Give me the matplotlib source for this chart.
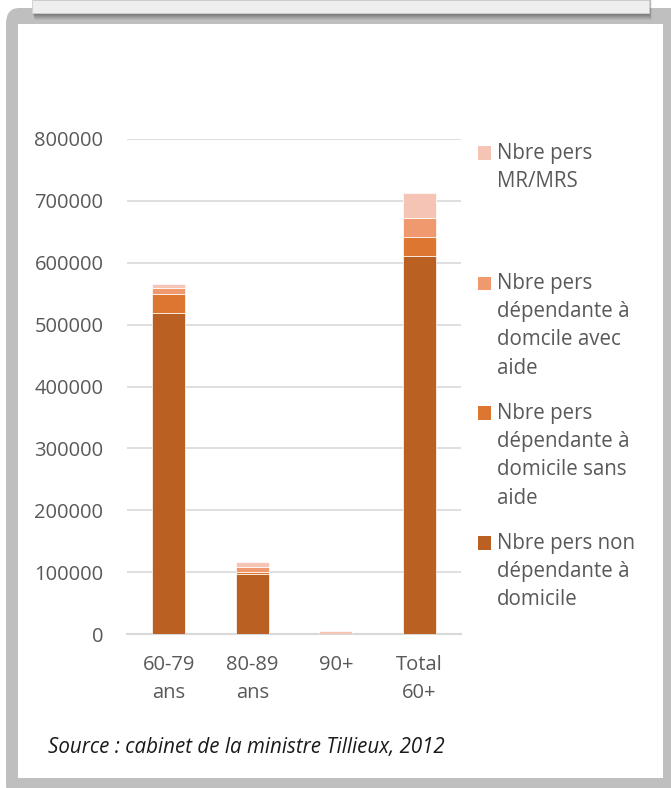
import numpy as np
import matplotlib
matplotlib.use("Agg")
from matplotlib import pyplot as plt
from matplotlib.patches import Rectangle, FancyBboxPatch

# data
categories = ["60-79\nans", "80-89\nans", "90+", "Total\n60+"]
non_dep = [519000, 97000, 0, 611000]
dep_sans_aide = [30000, 4000, 0, 31000]
dep_avec_aide = [10000, 8000, 0, 30000]
mr_mrs = [6000, 7000, 4500, 40000]

series_labels = [
    "Nbre pers\nMR/MRS",
    "Nbre pers\ndépendante à\ndomcile avec\naide",
    "Nbre pers\ndépendante à\ndomicile sans\naide",
    "Nbre pers non\ndépendante à\ndomicile",
]
colors = ["#b96022", "#dd7630", "#f0996e", "#f5c4b4"]  # bottom to top
yticks = [0, 100000, 200000, 300000, 400000, 500000, 600000, 700000, 800000]

W, H = 671, 788
plt.rcParams['font.family'] = ['Open Sans', 'DejaVu Sans']
fig = plt.figure(figsize=(W / 100, H / 100), dpi=100)
fig.patch.set_facecolor("white")

def fx(x):
    return x / W

def fy(y):
    return 1 - y / H

def frect(x0, y0, x1, y1, **kw):
    return Rectangle((fx(x0), fy(y1)), fx(x1) - fx(x0), fy(y0) - fy(y1),
                     transform=fig.transFigure, **kw)

# grey frame with rounded corner
fig.add_artist(FancyBboxPatch((fx(6), fy(800)), fx(700) - fx(6), fy(8) - fy(800),
                              boxstyle="round,pad=0,rounding_size=0.02",
                              transform=fig.transFigure, facecolor="#bfbfbf",
                              edgecolor="none", zorder=0))
fig.add_artist(frect(18, 24, 663, 778, facecolor="white", edgecolor="none", zorder=0.5))

# header box with soft shadow
for i, a in enumerate([0.10, 0.10, 0.12, 0.14, 0.16, 0.18, 0.2]):
    off = 7 - i
    fig.add_artist(frect(32 + off * 0.4, 0, 649 + off * 0.4, 13 + off, facecolor="#555555",
                         edgecolor="none", alpha=a, zorder=1))
fig.add_artist(frect(32, 0, 649, 13, facecolor="#eeeeee", edgecolor="#d0d0d0",
                     linewidth=0.6, zorder=2))

# plot area
ax = fig.add_axes([fx(127), fy(634), fx(461) - fx(127), fy(139) - fy(634)], zorder=3)
ax.patch.set_alpha(0)
x = np.arange(len(categories))
bottom = np.zeros(len(categories))
for vals, c in zip([non_dep, dep_sans_aide, dep_avec_aide, mr_mrs], colors):
    ax.bar(x, vals, width=0.4, bottom=bottom, color=c, edgecolor="white",
           linewidth=0.5, zorder=3)
    bottom += np.array(vals)

ax.set_xlim(-0.5, 3.5)
ax.set_ylim(0, 800000)
ax.set_yticks(yticks)
ax.set_yticklabels([str(v) for v in yticks])
ax.set_xticks(x)
ax.set_xticklabels(categories, linespacing=1.55)
ax.grid(axis="y", color="#d9d9d9", linewidth=1.2, zorder=0)
ax.set_axisbelow(True)
for s in ["top", "right", "left"]:
    ax.spines[s].set_visible(False)
ax.spines["bottom"].set_color("#d9d9d9")
ax.spines["bottom"].set_linewidth(1.5)
ax.tick_params(axis="both", length=0, labelsize=14.5, colors="#595959")
ax.tick_params(axis="y", pad=17)
ax.tick_params(axis="x", pad=15)

# legend, drawn as a column of four equal slots
leg_colors = colors[::-1]
for i, (lab, c) in enumerate(zip(series_labels, leg_colors)):
    ycen = 153 + i * 130
    fig.add_artist(frect(478, ycen - 6.5, 491, ycen + 6.5, facecolor=c,
                         edgecolor="none", zorder=4))
    fig.text(fx(497), fy(ycen - 10), lab, ha="left", va="top", fontsize=14.8,
             color="#595959", linespacing=1.45, zorder=4)

fig.text(fx(48), fy(747), "Source : cabinet de la ministre Tillieux, 2012",
         ha="left", va="center", fontsize=14.8, style="italic", color="#1a1a1a", zorder=4)

fig.savefig("out.png", dpi=100)
